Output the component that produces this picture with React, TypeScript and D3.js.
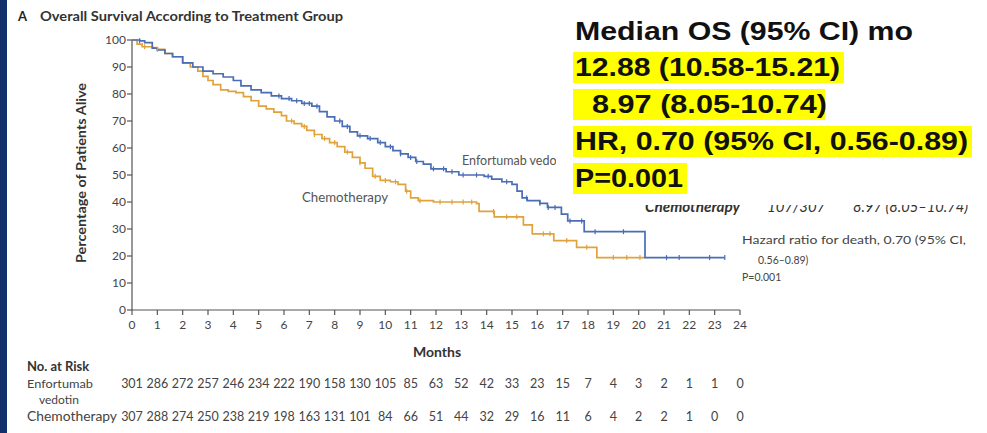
import React from "react";
import * as d3 from "d3";

// ---- data ----
const evCurve: [number, number][] = [
  [0, 100], [0.3, 99.7], [0.5, 99], [0.8, 97], [1.0, 96.3], [1.3, 95], [1.6, 93.8], [2.0, 91.5],
  [2.4, 90], [2.8, 88.5], [3.2, 87.5], [3.6, 86.3], [4.0, 85], [4.3, 83], [4.7, 81.5], [5.1, 80.5],
  [5.5, 79.3], [5.9, 78.3], [6.3, 77.5], [6.7, 76.5], [7.1, 75.5], [7.4, 73.5], [7.7, 71.5], [8.0, 70],
  [8.3, 68], [8.6, 66], [8.9, 64.5], [9.3, 63.5], [9.7, 62], [10.0, 60.5], [10.3, 59], [10.6, 57.8],
  [10.9, 56.5], [11.2, 55], [11.5, 54], [11.8, 52.3], [12.4, 51.2], [12.9, 50], [13.9, 49.5],
  [14.2, 48.5], [14.6, 47.5], [15.0, 46.5], [15.2, 44], [15.4, 41.5], [15.6, 40.5], [16.1, 39.5],
  [16.4, 38], [16.95, 35.5], [17.2, 33], [17.85, 29], [20.25, 19.4], [23.4, 19.4],
];
const chemoCurve: [number, number][] = [
  [0, 100], [0.2, 98.5], [0.4, 97.5], [0.8, 97.2], [1.0, 96.5], [1.3, 95], [1.6, 93.8], [2.0, 91.5],
  [2.3, 90], [2.6, 88.5], [2.8, 86.5], [3.0, 85], [3.2, 83.5], [3.5, 81.5], [3.8, 81], [4.1, 80.5],
  [4.4, 79], [4.7, 77.5], [5.0, 75.5], [5.3, 74.5], [5.6, 73.3], [5.9, 72], [6.1, 70], [6.4, 69],
  [6.7, 68], [6.9, 66.5], [7.2, 65], [7.5, 63.5], [7.8, 62], [8.1, 60.5], [8.4, 58.5], [8.7, 56.5],
  [9.0, 54.5], [9.2, 52.5], [9.5, 49.5], [9.8, 48], [10.2, 47.5], [10.5, 46.5], [10.8, 44], [11.0, 41.5],
  [11.3, 40.5], [11.9, 40], [13.6, 39.4], [13.7, 36.5], [14.3, 34.5], [15.45, 31.5], [15.8, 28.2],
  [16.65, 25.7], [17.55, 23.2], [18.35, 19.4], [20.25, 19.4],
];
const evCensor = [0.3, 5.8, 6.2, 6.5, 6.8, 7.0, 7.3, 8.2, 8.5, 9.0, 9.4, 9.8, 10.2, 10.6, 11.0, 11.24, 11.9, 12.3,
  12.63, 13.07, 13.6, 14.06, 14.79, 15.58, 16.1, 16.43, 16.7, 17.29, 17.75, 18.28, 19.4, 21.1, 21.6, 22.8, 23.4];
const chemoCensor = [0.5, 1.0, 6.3, 6.8, 7.2, 7.6, 8.0, 8.5, 9.0, 9.6, 10.0, 10.4, 10.84, 11.37, 12.16, 12.63,
  13.07, 13.41, 14.27, 14.79, 15.19, 16.24, 16.5, 17.16, 17.95, 19.0, 19.53, 20.05];

const months = d3.range(0, 25);
const yTicks = d3.range(0, 101, 10);
const evRisk = [301, 286, 272, 257, 246, 234, 222, 190, 158, 130, 105, 85, 63, 52, 42, 33, 23, 15, 7, 4, 3, 2, 1, 1, 0];
const chemoRisk = [307, 288, 274, 250, 238, 219, 198, 163, 131, 101, 84, 66, 51, 44, 32, 29, 16, 11, 6, 4, 2, 2, 1, 0, 0];

const overlayLines = [
  { text: "Median OS (95% CI) mo", hl: false },
  { text: "12.88 (10.58-15.21)", hl: true },
  { text: "  8.97 (8.05-10.74)", hl: true },
  { text: "HR, 0.70 (95% CI, 0.56-0.89)", hl: true },
  { text: "P=0.001", hl: true },
];

const BLUE = "#4a6db5";
const ORANGE = "#e0a23c";
const FONT = "Lato, 'Open Sans', sans-serif";

function stepValue(curve: [number, number][], t: number) {
  let v = curve[0][1];
  for (const [tt, s] of curve) if (tt <= t) v = s;
  return v;
}

export default function App() {
  const x = d3.scaleLinear().domain([0, 24]).range([132, 740]);
  const y = d3.scaleLinear().domain([0, 100]).range([310, 40]);
  const line = d3
    .line<[number, number]>()
    .x((d) => x(d[0]))
    .y((d) => y(d[1]))
    .curve(d3.curveStepAfter);

  const overlayCenters = [31, 67, 104, 141, 178];
  const overlayWidths = [338, 265, 252, 393, 108];

  return (
    <svg width={987} height={433} style={{ position: "absolute", left: 0, top: 0, background: "#fff" }}>
      <rect x={0} y={0} width={987} height={433} fill="#fff" />
      <rect x={0} y={0} width={7} height={433} fill="#12306a" />

      {/* title */}
      <text x={18} y={21} fontFamily={FONT} fontWeight={700} fontSize={13} fill="#222">A</text>
      <text x={40} y={21} fontFamily={FONT} fontWeight={700} fontSize={12.5} fill="#333" textLength={303} lengthAdjust="spacingAndGlyphs">
        Overall Survival According to Treatment Group
      </text>

      {/* y axis */}
      <line x1={x(0)} x2={x(0)} y1={y(100)} y2={y(0)} stroke="#555" strokeWidth={1.2} />
      {yTicks.map((t) => (
        <g key={"y" + t}>
          <line x1={x(0) - 5} x2={x(0)} y1={y(t)} y2={y(t)} stroke="#555" strokeWidth={1.2} />
          <text x={x(0) - 6} y={y(t) + 4} textAnchor="end" fontFamily={FONT} fontSize={12} fill="#444">{t}</text>
        </g>
      ))}
      <text transform={`translate(86,${y(50) - 2}) rotate(-90)`} textAnchor="middle" fontFamily={FONT} fontWeight={700} fontSize={13} fill="#333" textLength={180} lengthAdjust="spacingAndGlyphs">
        Percentage of Patients Alive
      </text>

      {/* x axis */}
      <line x1={x(0)} x2={x(24)} y1={y(0)} y2={y(0)} stroke="#555" strokeWidth={1.2} />
      {months.map((m) => (
        <g key={"x" + m}>
          <line x1={x(m)} x2={x(m)} y1={y(0)} y2={y(0) + 5} stroke="#555" strokeWidth={1.2} />
          <text x={x(m)} y={y(0) + 19} textAnchor="middle" fontFamily={FONT} fontSize={12} fill="#444">{m}</text>
        </g>
      ))}
      <text x={437} y={357} textAnchor="middle" fontFamily={FONT} fontWeight={700} fontSize={14} fill="#333">Months</text>

      {/* curves */}
      <path d={line(chemoCurve) || ""} fill="none" stroke={ORANGE} strokeWidth={1.7} />
      <path d={line(evCurve) || ""} fill="none" stroke={BLUE} strokeWidth={1.7} />
      {chemoCensor.map((t, i) => (
        <line key={"cc" + i} x1={x(t)} x2={x(t)} y1={y(stepValue(chemoCurve, t)) - 2.5} y2={y(stepValue(chemoCurve, t)) + 2.5} stroke={ORANGE} strokeWidth={1.2} />
      ))}
      {evCensor.map((t, i) => (
        <line key={"ec" + i} x1={x(t)} x2={x(t)} y1={y(stepValue(evCurve, t)) - 2.5} y2={y(stepValue(evCurve, t)) + 2.5} stroke={BLUE} strokeWidth={1.2} />
      ))}

      {/* curve labels */}
      <text x={302} y={202} fontFamily={FONT} fontSize={12.5} fill="#555" textLength={86} lengthAdjust="spacingAndGlyphs">Chemotherapy</text>
      <text x={462} y={165} fontFamily={FONT} fontSize={12.5} fill="#555">Enfortumab vedotin</text>

      {/* original legend (partly hidden) */}
      <text x={645} y={212} fontFamily={FONT} fontWeight={700} fontStyle="italic" fontSize={15} fill="#333" textLength={95} lengthAdjust="spacingAndGlyphs">Chemotherapy</text>
      <text x={767} y={212} fontFamily={FONT} fontStyle="italic" fontSize={15} fill="#333">107/307</text>
      <text x={853} y={212} fontFamily={FONT} fontStyle="italic" fontSize={15} fill="#333" textLength={115} lengthAdjust="spacingAndGlyphs">8.97 (8.05–10.74)</text>

      <text x={742} y={244} fontFamily={FONT} fontSize={10.5} fill="#444" textLength={224} lengthAdjust="spacingAndGlyphs">Hazard ratio for death, 0.70 (95% CI,</text>
      <text x={758} y={264} fontFamily={FONT} fontSize={10.5} fill="#444">0.56–0.89)</text>
      <text x={742} y={281} fontFamily={FONT} fontSize={10.5} fill="#444">P=0.001</text>

      {/* overlay box */}
      <rect x={556} y={0} width={431} height={205} fill="#fff" />
      {overlayLines.map((l, i) => (
        <g key={"ov" + i}>
          {l.hl && (
            <rect x={573} y={overlayCenters[i] - 15} width={overlayWidths[i] + (i === 2 ? 0 : 6)} height={31} fill="#ffff00" />
          )}
          <text
            x={575}
            y={overlayCenters[i] + 9}
            fontFamily="'Liberation Sans', Arial, sans-serif"
            fontWeight={700}
            fontSize={25}
            fill="#111"
            xmlSpace="preserve"
            style={{ whiteSpace: "pre" }}
            textLength={overlayWidths[i]}
            lengthAdjust="spacingAndGlyphs"
          >
            {l.text}
          </text>
        </g>
      ))}

      {/* risk table */}
      <text x={27} y={371} fontFamily={FONT} fontWeight={700} fontSize={13} fill="#333">No. at Risk</text>
      <text x={27} y={388} fontFamily={FONT} fontSize={12} fill="#444" textLength={66} lengthAdjust="spacingAndGlyphs">Enfortumab</text>
      <text x={39} y={404} fontFamily={FONT} fontSize={12} fill="#444">vedotin</text>
      <text x={27} y={421} fontFamily={FONT} fontSize={12.5} fill="#444" textLength={90} lengthAdjust="spacingAndGlyphs">Chemotherapy</text>
      {evRisk.map((v, i) => (
        <text key={"er" + i} x={x(months[i])} y={388} textAnchor="middle" fontFamily={FONT} fontSize={12.5} fill="#444">{v}</text>
      ))}
      {chemoRisk.map((v, i) => (
        <text key={"cr" + i} x={x(months[i])} y={421} textAnchor="middle" fontFamily={FONT} fontSize={12.5} fill="#444">{v}</text>
      ))}
    </svg>
  );
}
